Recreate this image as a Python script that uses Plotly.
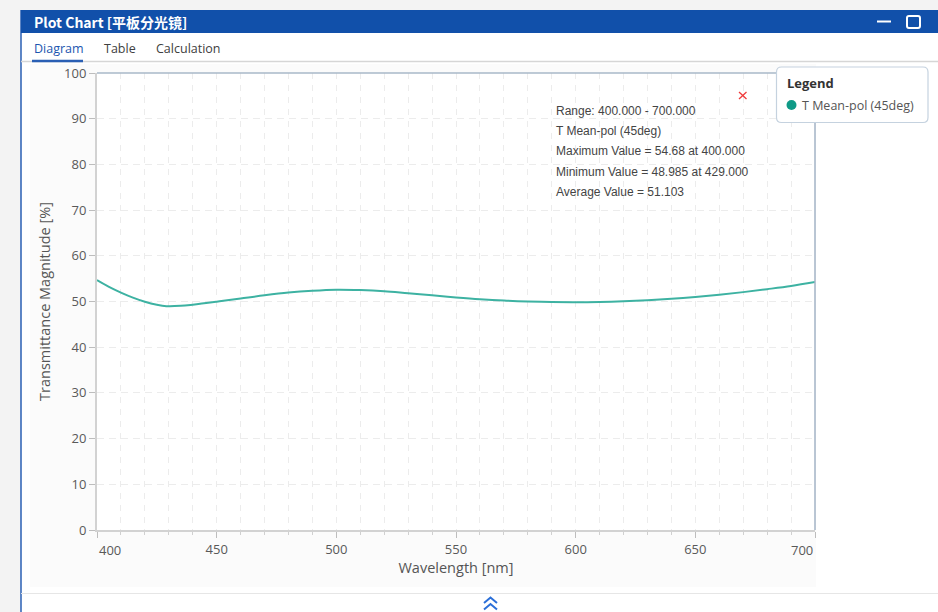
import plotly.graph_objects as go

# Transmittance spectrum, T mean polarisation at 45 deg
wavelength = [400, 405, 410, 415, 420, 425, 429, 435, 440, 450, 460, 470, 480, 490, 500,
              510, 520, 530, 540, 550, 560, 570, 580, 590, 600, 610, 620, 630, 640, 650,
              660, 670, 680, 690, 700]
t_mean_pol = [54.68, 53.2, 51.95, 50.85, 49.95, 49.3, 48.985, 49.05, 49.3, 49.95, 50.65,
              51.35, 51.95, 52.35, 52.58, 52.5, 52.25, 51.8, 51.35, 50.9, 50.5, 50.2, 50.0,
              49.88, 49.85, 49.9, 50.05, 50.3, 50.6, 51.0, 51.5, 52.05, 52.7, 53.4, 54.25]
series_name = "T Mean-pol (45deg)"
average_value = "51.103"

x_ticks = [400, 450, 500, 550, 600, 650, 700]
y_ticks = list(range(0, 101, 10))

# Plot-area geometry in pixels (used to place window chrome around the chart)
W_PX, H_PX = 938, 612
L, R, T, B = 97, 815, 73, 530


def px(x):
    return (x - L) / (R - L)


def py(y):
    return (B - y) / (B - T)


def rect(x0, y0, x1, y1, fill, line_color=None, line_width=0, layer="below"):
    return dict(type="rect", xref="paper", yref="paper",
                x0=px(x0), x1=px(x1), y0=py(y1), y1=py(y0),
                fillcolor=fill, layer=layer,
                line=dict(color=line_color or fill, width=line_width))


def seg(x0, y0, x1, y1, color, width=1, layer="below"):
    return dict(type="line", xref="paper", yref="paper",
                x0=px(x0), x1=px(x1), y0=py(y0), y1=py(y1),
                line=dict(color=color, width=width), layer=layer)


def path(points, color, width=2, layer="above"):
    d = "M " + " L ".join(f"{px(a):.5f},{py(b):.5f}" for a, b in points)
    return dict(type="path", xref="paper", yref="paper", path=d,
                line=dict(color=color, width=width), layer=layer)


FONT = "Open Sans, Noto Sans, sans-serif"
TXT = "Liberation Sans, Arial, sans-serif"

fig = go.Figure()
fig.add_trace(go.Scatter(
    x=wavelength, y=t_mean_pol, mode="lines", name=series_name,
    line=dict(color="#3db2a2", width=2, shape="spline", smoothing=1.0),
    showlegend=False, hoverinfo="x+y",
))

shapes = [
    # page background and panel
    rect(0, 0, W_PX, 10, "#f3f3f3"),
    rect(0, 0, 21, W_PX, "#f3f3f3"),
    rect(21, 33, W_PX, H_PX, "#ffffff"),
    seg(21, 10, 21, H_PX, "#2a5fb4", 1.5),
    # title bar
    rect(21, 10, W_PX, 33, "#1150aa"),
    seg(877, 21.5, 891, 21.5, "#ffffff", 2, "above"),
    dict(type="path", xref="paper", yref="paper", layer="above",
         path=(f"M {px(909):.5f},{py(16):.5f} L {px(918):.5f},{py(16):.5f} "
               f"Q {px(920):.5f},{py(16):.5f} {px(920):.5f},{py(18):.5f} "
               f"L {px(920):.5f},{py(26):.5f} Q {px(920):.5f},{py(28):.5f} {px(918):.5f},{py(28):.5f} "
               f"L {px(909):.5f},{py(28):.5f} Q {px(907):.5f},{py(28):.5f} {px(907):.5f},{py(26):.5f} "
               f"L {px(907):.5f},{py(18):.5f} Q {px(907):.5f},{py(16):.5f} {px(909):.5f},{py(16):.5f} Z"),
         line=dict(color="#ffffff", width=2)),
    # tab strip
    seg(21, 61.5, W_PX, 61.5, "#d6d6d6", 1.5),
    seg(32, 61, 83, 61, "#2a5fb4", 2.5, "above"),
    # chart surface
    rect(30, 64, 816, 587, "#fbfbfb"),
    rect(L, T, R, B, "#ffffff"),
    # bottom strip with collapse chevrons
    seg(21, 593.5, W_PX, 593.5, "#e6e6e6", 1),
    path([(484, 603), (490.5, 597.5), (497, 603)], "#2b6fd8", 2),
    path([(484, 609.5), (490.5, 604), (497, 609.5)], "#2b6fd8", 2),
    # frame of plot area (top and right)
    seg(L, T, R, T, "#a9b8c9", 1.5, "above"),
    seg(R, T, R, B, "#a3b3c6", 1.5, "above"),
    # close marker of the info box
    seg(739, 92, 746.5, 99, "#ef3b3b", 1.3, "above"),
    seg(739, 99, 746.5, 92, "#ef3b3b", 1.3, "above"),
]

# Legend box drawn as a rounded panel
lx0, ly0, lx1, ly1, r = 776.5, 67, 928, 122.5, 5
legend_path = (
    f"M {px(lx0 + r):.5f},{py(ly0):.5f} L {px(lx1 - r):.5f},{py(ly0):.5f} "
    f"Q {px(lx1):.5f},{py(ly0):.5f} {px(lx1):.5f},{py(ly0 + r):.5f} "
    f"L {px(lx1):.5f},{py(ly1 - r):.5f} Q {px(lx1):.5f},{py(ly1):.5f} {px(lx1 - r):.5f},{py(ly1):.5f} "
    f"L {px(lx0 + r):.5f},{py(ly1):.5f} Q {px(lx0):.5f},{py(ly1):.5f} {px(lx0):.5f},{py(ly1 - r):.5f} "
    f"L {px(lx0):.5f},{py(ly0 + r):.5f} Q {px(lx0):.5f},{py(ly0):.5f} {px(lx0 + r):.5f},{py(ly0):.5f} Z"
)
shapes.append(dict(type="path", xref="paper", yref="paper", path=legend_path,
                   fillcolor="#ffffff", line=dict(color="#c5d2df", width=1.2),
                   layer="above"))
shapes.append(dict(type="circle", xref="paper", yref="paper", layer="above",
                   x0=px(786.5), x1=px(796.5), y0=py(110), y1=py(100),
                   fillcolor="#0f9a87", line=dict(color="#0f9a87", width=0)))

annotations = []


def label(text, x, y, size, color, family=FONT, xanchor="left", bold=False):
    annotations.append(dict(
        text=f"<b>{text}</b>" if bold else text, xref="paper", yref="paper",
        x=px(x), y=py(y), xanchor=xanchor, yanchor="middle", showarrow=False,
        font=dict(size=size, color=color, family=family)))


label("Plot Chart [平板分光镜]", 32, 22, 14, "#ffffff",
      family="Noto Sans CJK SC, Open Sans, sans-serif", bold=True)
label("Diagram", 32, 49, 12.5, "#1c56b0")
label("Table", 102, 49, 12.5, "#404040")
label("Calculation", 154, 49, 12.5, "#404040")

label("Legend", 785, 83, 13, "#333333", bold=True)
label(series_name, 800, 105.5, 12.5, "#555555")

# statistics box
i_max = max(range(len(t_mean_pol)), key=lambda i: t_mean_pol[i])
i_min = min(range(len(t_mean_pol)), key=lambda i: t_mean_pol[i])
stats = [
    f"Range: {wavelength[0]:.3f} - {wavelength[-1]:.3f}",
    series_name,
    f"Maximum Value = {t_mean_pol[i_max]:g} at {wavelength[i_max]:.3f}",
    f"Minimum Value = {t_mean_pol[i_min]:g} at {wavelength[i_min]:.3f}",
    f"Average Value = {average_value}",
]
for k, line_text in enumerate(stats):
    label(line_text, 554, 111 + k * 20.2, 12, "#444444", family=TXT)

# end labels of the wavelength axis sit inside the plot edges
annotations.append(dict(text=str(x_ticks[0]), xref="x", yref="paper", x=x_ticks[0],
                        y=py(550), xanchor="left", yanchor="middle", showarrow=False,
                        font=dict(size=13, color="#595959", family=FONT)))
annotations.append(dict(text=str(x_ticks[-1]), xref="x", yref="paper", x=x_ticks[-1],
                        y=py(550), xanchor="right", yanchor="middle", showarrow=False,
                        font=dict(size=13, color="#595959", family=FONT)))

fig.update_layout(
    width=W_PX, height=H_PX,
    margin=dict(l=L, r=W_PX - R, t=T, b=H_PX - B, pad=0),
    paper_bgcolor="#ffffff", plot_bgcolor="#ffffff",
    showlegend=False,
    shapes=shapes, annotations=annotations,
    font=dict(family=FONT, color="#595959"),
    xaxis=dict(
        range=[400, 700], tickvals=x_ticks,
        ticktext=[""] + [str(v) for v in x_ticks[1:-1]] + [""],
        ticks="outside", ticklen=6, tickwidth=1, tickcolor="#bdbdbd",
        tickfont=dict(size=13, color="#595959"),
        showline=True, linecolor="#d2d2d2", linewidth=2,
        showgrid=True, gridcolor="#ececec", griddash="6px,6px", gridwidth=1,
        minor=dict(dtick=10, tick0=400, ticks="outside", ticklen=3, tickcolor="#d0d0d0",
                   showgrid=True, gridcolor="#ececec", griddash="6px,6px"),
        zeroline=False,
        title=dict(text="Wavelength [nm]", font=dict(size=14.5, color="#555555"), standoff=6),
    ),
    yaxis=dict(
        range=[0, 100], tickvals=y_ticks,
        ticks="outside", ticklen=6, tickwidth=1, tickcolor="#bdbdbd",
        tickfont=dict(size=13, color="#595959"),
        showline=True, linecolor="#d2d2d2", linewidth=2,
        showgrid=True, gridcolor="#ececec", griddash="7px,5px", gridwidth=1,
        zeroline=False,
        title=dict(text="Transmittance Magnitude [%]", font=dict(size=14.5, color="#555555"),
                   standoff=10),
    ),
)

fig.write_html("out.html")
